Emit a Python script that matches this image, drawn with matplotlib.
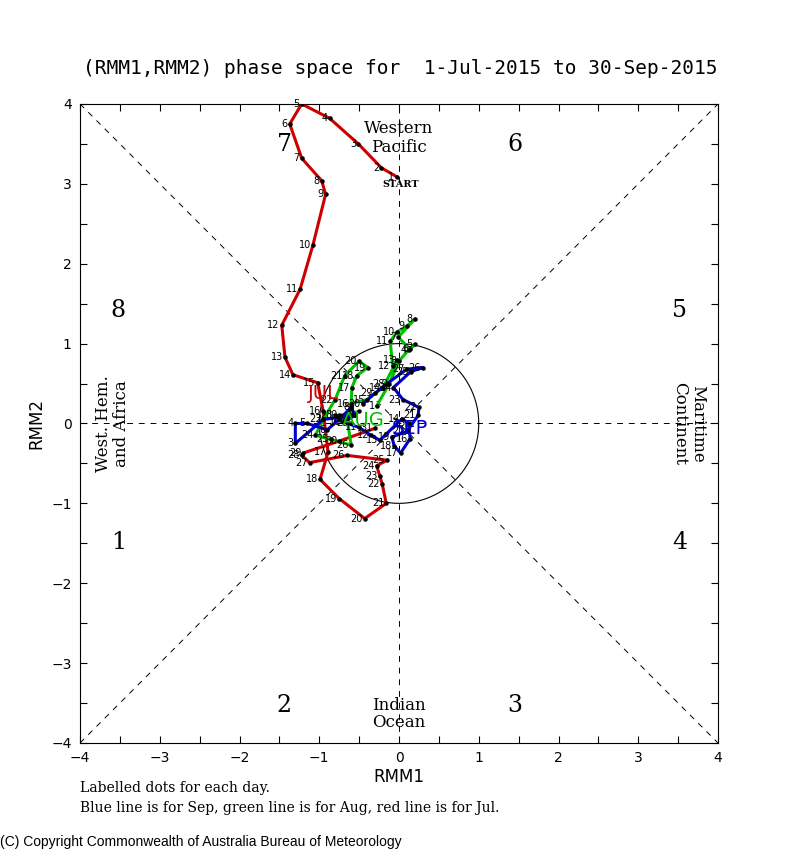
import matplotlib.pyplot as plt
import numpy as np

# RMM1 / RMM2 daily values
jul_rmm1 = [-0.03, -0.22, -0.51, -0.87, -1.22, -1.37, -1.22, -0.97, -0.92, -1.08,
            -1.24, -1.47, -1.43, -1.33, -1.02, -0.95, -0.89, -0.99, -0.75, -0.43,
            -0.16, -0.21, -0.24, -0.28, -0.15, -0.65, -1.12, -1.22, -1.20, -0.75, -0.30]
jul_rmm2 = [3.09, 3.20, 3.50, 3.82, 4.00, 3.75, 3.32, 3.04, 2.87, 2.23,
            1.68, 1.23, 0.83, 0.61, 0.51, 0.15, -0.36, -0.70, -0.94, -1.19,
            -1.00, -0.76, -0.66, -0.53, -0.46, -0.40, -0.49, -0.40, -0.37, -0.22, -0.06]

aug_rmm1 = [-0.28, -0.12, 0.00, 0.12, 0.20, 0.14, -0.01, 0.20, 0.10, -0.02,
            -0.11, -0.08, -0.02, -0.20, -0.40, -0.60, -0.59, -0.53, -0.39, -0.50,
            -0.68, -0.80, -0.95, -1.05, -0.85, -0.60, -0.65, -0.80, -0.60, -0.75, -0.50]
aug_rmm2 = [0.22, 0.50, 0.78, 0.92, 0.99, 0.93, 1.08, 1.31, 1.22, 1.15,
            1.03, 0.72, 0.80, 0.45, 0.30, 0.25, 0.45, 0.60, 0.70, 0.78,
            0.60, 0.30, 0.05, -0.15, -0.20, -0.27, 0.05, 0.10, 0.00, 0.10, 0.15]

sep_rmm1 = [-0.55, -0.95, -1.30, -1.30, -1.15, -0.90, -0.75, -0.60, -0.55, -0.70,
            -0.50, -0.35, -0.24, 0.04, 0.12, 0.14, 0.02, -0.06, -0.09, 0.10,
            0.24, 0.25, 0.05, -0.07, 0.15, 0.30, 0.10, -0.15, -0.30, -0.45]
sep_rmm2 = [0.10, 0.05, -0.25, 0.00, 0.00, -0.08, 0.05, 0.20, 0.10, 0.02,
            -0.05, -0.15, -0.21, 0.06, 0.00, -0.19, -0.37, -0.28, -0.17, -0.10,
            0.10, 0.20, 0.30, 0.45, 0.65, 0.70, 0.68, 0.50, 0.38, 0.25]

months = ['JUL', 'AUG', 'SEP']
month_colors = ['#cc0000', '#00c000', '#0000cc']
month_label_pos = [(-0.95, 0.37), (-0.45, 0.04), (0.14, -0.06)]

phase_numbers = ['1', '2', '3', '4', '5', '6', '7', '8']
phase_pos = [(-3.52, -1.49), (-1.44, -3.53), (1.45, -3.53), (3.52, -1.49),
             (3.52, 1.41), (1.45, 3.49), (-1.44, 3.49), (-3.52, 1.41)]

fig = plt.figure(figsize=(8, 8.5), dpi=100)
ax = fig.add_axes([0.1, 0.1259, 0.7975, 0.7518])
ax.set_xlim(-4, 4)
ax.set_ylim(-4, 4)

# guide lines
dash = dict(color='black', lw=0.7, ls=(0, (6, 6)))
ax.plot([-4, 4], [0, 0], **dash)
ax.plot([0, 0], [-4, 4], **dash)
ax.plot([-4, 4], [-4, 4], **dash)
ax.plot([-4, 4], [4, -4], **dash)
t = np.linspace(0, 2 * np.pi, 300)
ax.plot(np.cos(t), np.sin(t), color='black', lw=0.8)

serif = 'DejaVu Serif'
for lab, (px, py) in zip(phase_numbers, phase_pos):
    ax.text(px, py, lab, fontsize=17, family=serif, ha='center', va='center')

ax.text(0, 3.69, 'Western', fontsize=12, family=serif, ha='center', va='center')
ax.text(0, 3.46, 'Pacific', fontsize=12, family=serif, ha='center', va='center')
ax.text(0, -3.53, 'Indian', fontsize=12, family=serif, ha='center', va='center')
ax.text(0, -3.74, 'Ocean', fontsize=12, family=serif, ha='center', va='center')
ax.text(-3.7, 0, 'West. Hem.', fontsize=12, family=serif, ha='center', va='center', rotation=90)
ax.text(-3.48, 0, 'and Africa', fontsize=12, family=serif, ha='center', va='center', rotation=90)
ax.text(3.74, 0, 'Maritime', fontsize=12, family=serif, ha='center', va='center', rotation=-90)
ax.text(3.52, 0, 'Continent', fontsize=12, family=serif, ha='center', va='center', rotation=-90)

# trajectories
series = [(jul_rmm1, jul_rmm2), (aug_rmm1, aug_rmm2), (sep_rmm1, sep_rmm2)]
for (xs, ys), col in zip(series, month_colors):
    ax.plot(xs, ys, color=col, lw=2.2, zorder=3)
for (xs, ys), col in zip(series, month_colors):
    ax.scatter(xs, ys, s=5, color='black', zorder=4)
    for i, (x, y) in enumerate(zip(xs, ys)):
        ax.annotate(str(i + 1), (x, y), xytext=(-1.5, 0), textcoords='offset points',
                    fontsize=7, ha='right', va='center', zorder=5)

for m, col, (mx, my) in zip(months, month_colors, month_label_pos):
    ax.text(mx, my, m, color=col, fontsize=14, ha='center', va='center', zorder=6)

ax.text(jul_rmm1[0] + 0.05, jul_rmm2[0] - 0.1, 'START', fontsize=7, family=serif,
        fontweight='bold', ha='center', va='center')

# axes styling: ticks every 0.5, labels at integers
ax.set_xticks(np.arange(-4, 5, 1))
ax.set_yticks(np.arange(-4, 5, 1))
ax.set_xticks(np.arange(-3.5, 4, 1), minor=True)
ax.set_yticks(np.arange(-3.5, 4, 1), minor=True)
ax.tick_params(which='both', direction='in', top=True, right=True, length=5, width=0.8)
ax.tick_params(which='major', labelsize=10, pad=6)
ax.set_xticklabels(['\u22124', '\u22123', '\u22122', '\u22121', '0', '1', '2', '3', '4'])
ax.set_yticklabels(['\u22124', '\u22123', '\u22122', '\u22121', '0', '1', '2', '3', '4'])
ax.set_xlabel('RMM1', fontsize=12, labelpad=2)
ax.set_ylabel('RMM2', fontsize=12, labelpad=4)

fig.text(0.5, 1 - 68 / 850, '(RMM1,RMM2) phase space for  1-Jul-2015 to 30-Sep-2015',
         family='DejaVu Sans Mono', fontsize=14, ha='center', va='center')
fig.text(0.1, 1 - 788 / 850, 'Labelled dots for each day.', family=serif,
         fontsize=10, va='center')
fig.text(0.1, 1 - 808 / 850, 'Blue line is for Sep, green line is for Aug, red line is for Jul.',
         family=serif, fontsize=10, va='center')
fig.text(0.0, 1 - 842 / 850, '(C) Copyright Commonwealth of Australia Bureau of Meteorology',
         family='Liberation Sans', fontsize=10, va='center')

fig.savefig('out.png', dpi=100)
